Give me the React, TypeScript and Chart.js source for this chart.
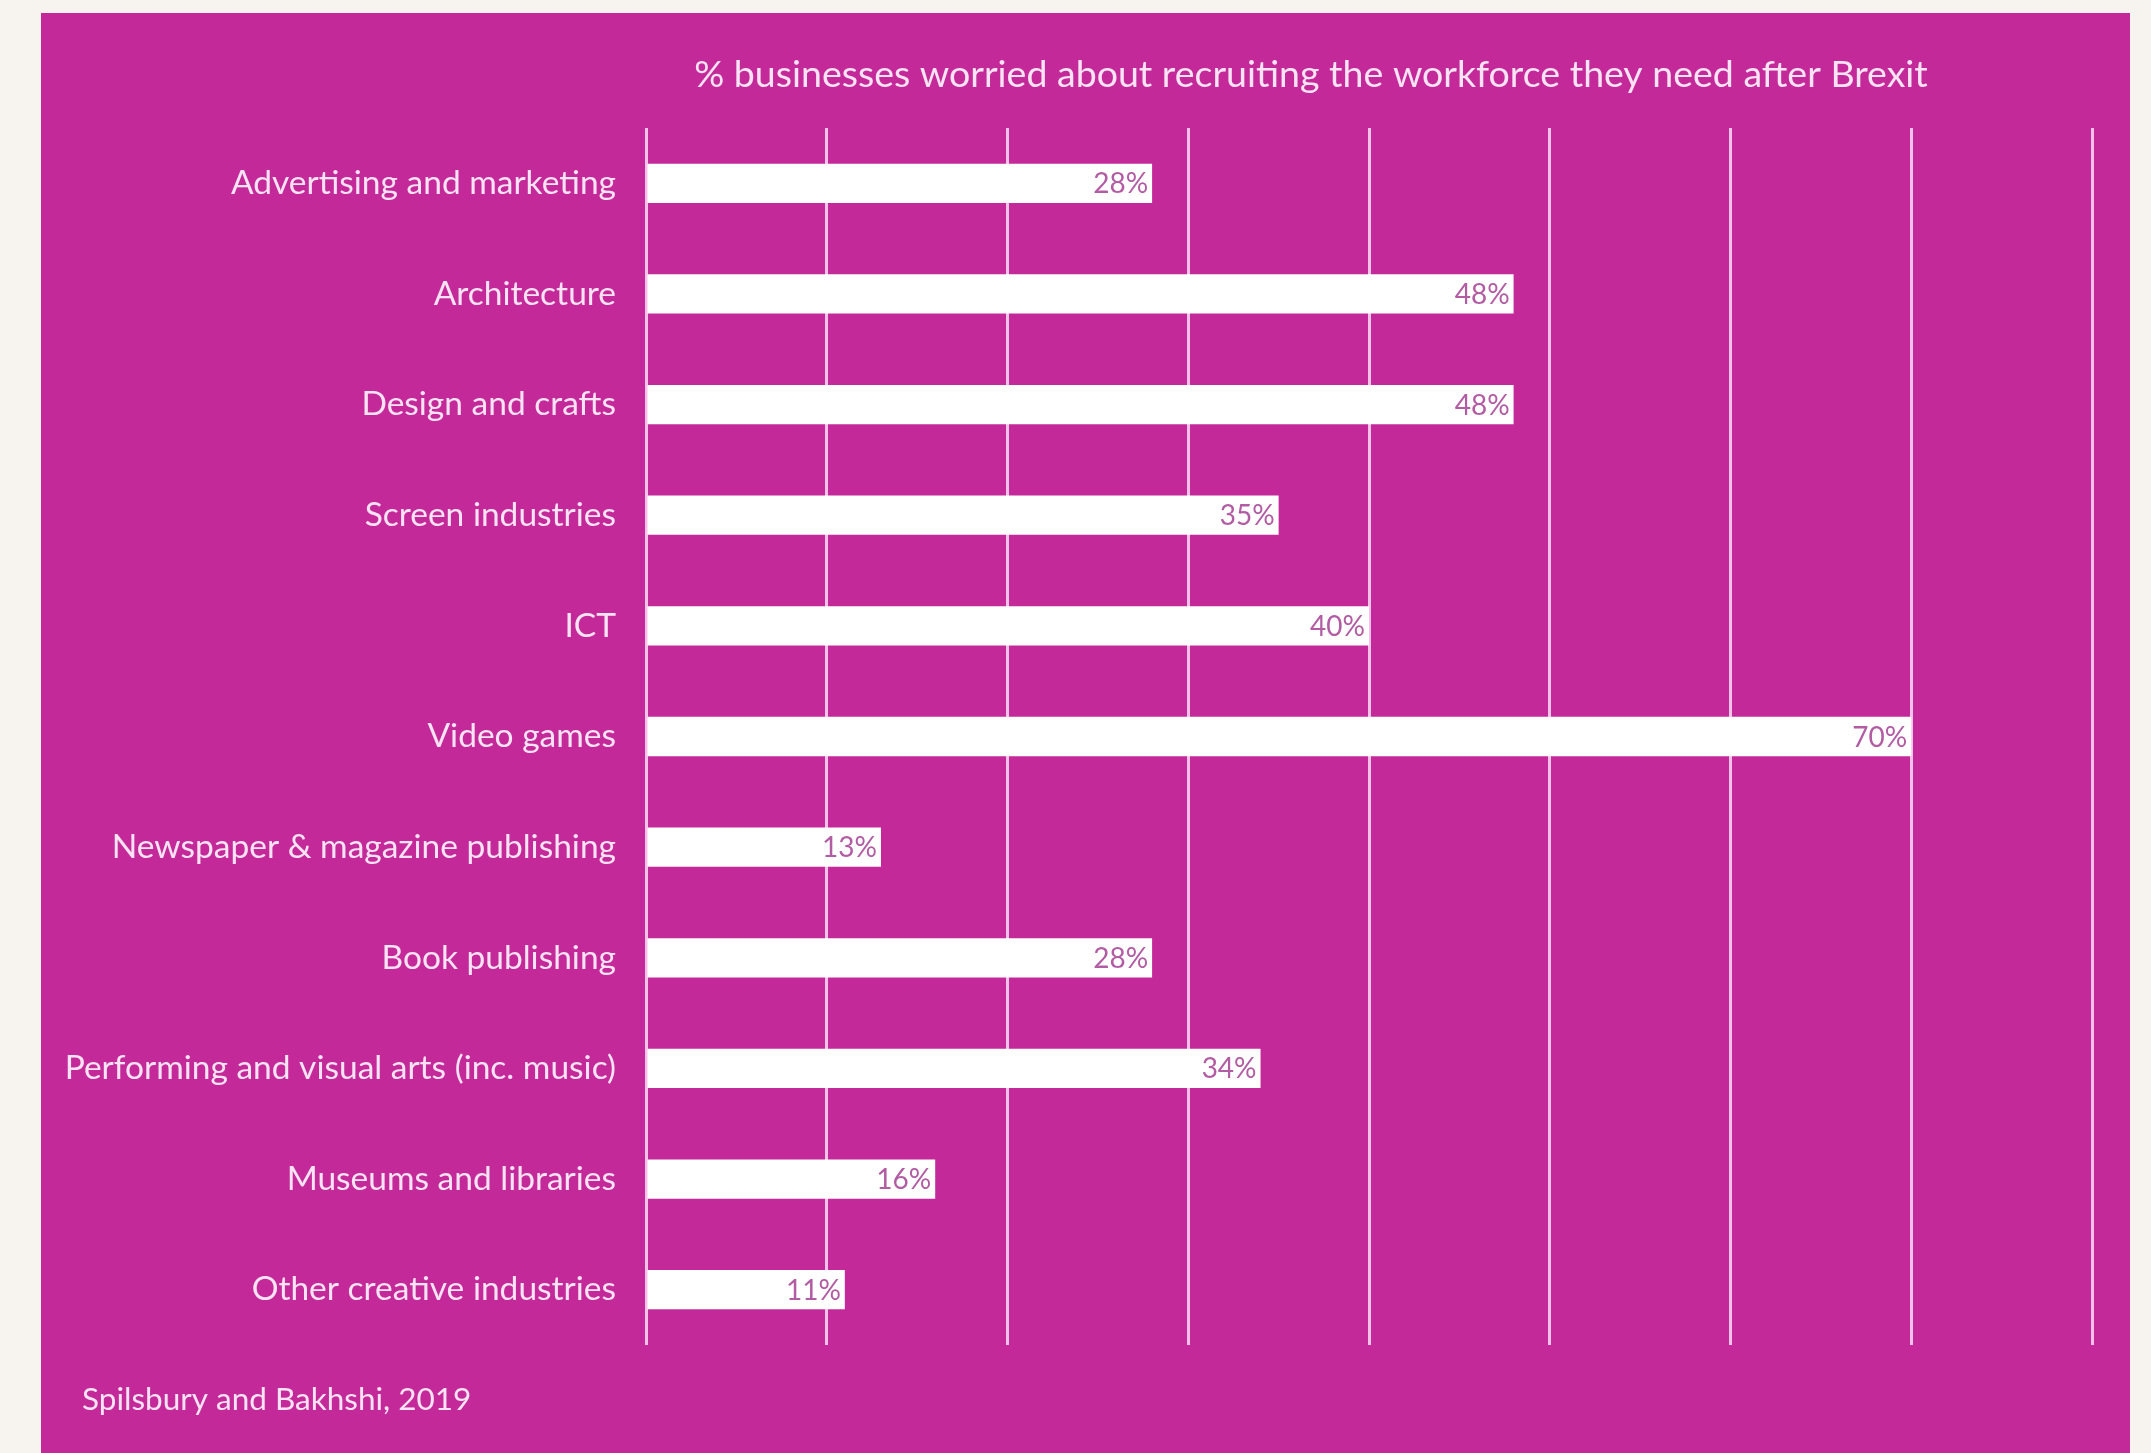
import React, { useEffect, useRef } from "react";
import { Chart, registerables } from "chart.js";

Chart.register(...registerables);

const categories: string[] = [
  "Advertising and marketing",
  "Architecture",
  "Design and crafts",
  "Screen industries",
  "ICT",
  "Video games",
  "Newspaper & magazine publishing",
  "Book publishing",
  "Performing and visual arts (inc. music)",
  "Museums and libraries",
  "Other creative industries",
];

const worriedPct: number[] = [28, 48, 48, 35, 40, 70, 13, 28, 34, 16, 11];

const xTicks: number[] = [0, 10, 20, 30, 40, 50, 60, 70, 80];

const titleText = "% businesses worried about recruiting the workforce they need after Brexit";
const sourceText = "Spilsbury and Bakhshi, 2019";

const PINK = "#c4299a";
const TEXT = "#fbe3f4";
const GRID = "#f4c2e8";
const VALUE = "#b25ca4";
const FONT = "Lato, 'Open Sans', sans-serif";

export default function App() {
  const ref = useRef<HTMLCanvasElement | null>(null);

  useEffect(() => {
    if (!ref.current) return;
    const overlay = {
      id: "overlay",
      afterDraw(chart: any) {
        const ctx = chart.ctx;
        const area = chart.chartArea;
        ctx.save();
        // title
        ctx.fillStyle = TEXT;
        ctx.font = `37.5px ${FONT}`;
        ctx.textAlign = "center";
        ctx.textBaseline = "middle";
        ctx.fillText(titleText, area.left + 665, 62);
        // source
        ctx.textAlign = "left";
        ctx.font = `31.5px ${FONT}`;
        ctx.fillText(sourceText, 41, 1387);
        // values
        const meta = chart.getDatasetMeta(0);
        ctx.font = `28px ${FONT}`;
        ctx.fillStyle = VALUE;
        ctx.textAlign = "right";
        meta.data.forEach((bar: any, i: number) => {
          ctx.fillText(`${worriedPct[i]}%`, bar.x - 4, bar.y + 1);
        });
        ctx.restore();
      },
    };

    const chart = new Chart(ref.current, {
      type: "bar",
      data: {
        labels: categories,
        datasets: [
          {
            data: worriedPct,
            backgroundColor: "#ffffff",
            borderWidth: 0,
            barPercentage: 0.355,
            categoryPercentage: 1,
          },
        ],
      },
      options: {
        indexAxis: "y",
        animation: false,
        responsive: false,
        devicePixelRatio: 1,
        layout: { padding: { top: 115, bottom: 108, left: 0, right: 38 } },
        plugins: {
          legend: { display: false },
          tooltip: { enabled: false },
          title: { display: false },
        },
        scales: {
          x: {
            min: xTicks[0],
            max: xTicks[xTicks.length - 1],
            afterBuildTicks: (s: any) => {
              s.ticks = xTicks.map((v) => ({ value: v }));
            },
            ticks: { display: false },
            grid: { color: GRID, lineWidth: 3, drawTicks: false },
            border: { display: false },
            afterFit: (s: any) => {
              s.height = 0;
            },
          },
          y: {
            grid: { display: false, drawTicks: false },
            border: { display: false },
            ticks: {
              color: TEXT,
              font: { family: FONT, size: 33.5 },
              padding: 30,
            },
            afterFit: (s: any) => {
              s.width = 605;
            },
          },
        },
      },
      plugins: [overlay],
    } as any);
    return () => chart.destroy();
  }, []);

  return (
    <div
      style={{
        position: "fixed",
        left: 0,
        top: 0,
        width: 2151,
        height: 1453,
        background: "#f7f4f0",
        overflow: "hidden",
      }}
    >
      <div
        style={{
          position: "absolute",
          left: 41,
          top: 13,
          width: 2089,
          height: 1440,
          background: PINK,
        }}
      >
        <canvas ref={ref} width={2089} height={1440} style={{ display: "block" }} />
      </div>
    </div>
  );
}
